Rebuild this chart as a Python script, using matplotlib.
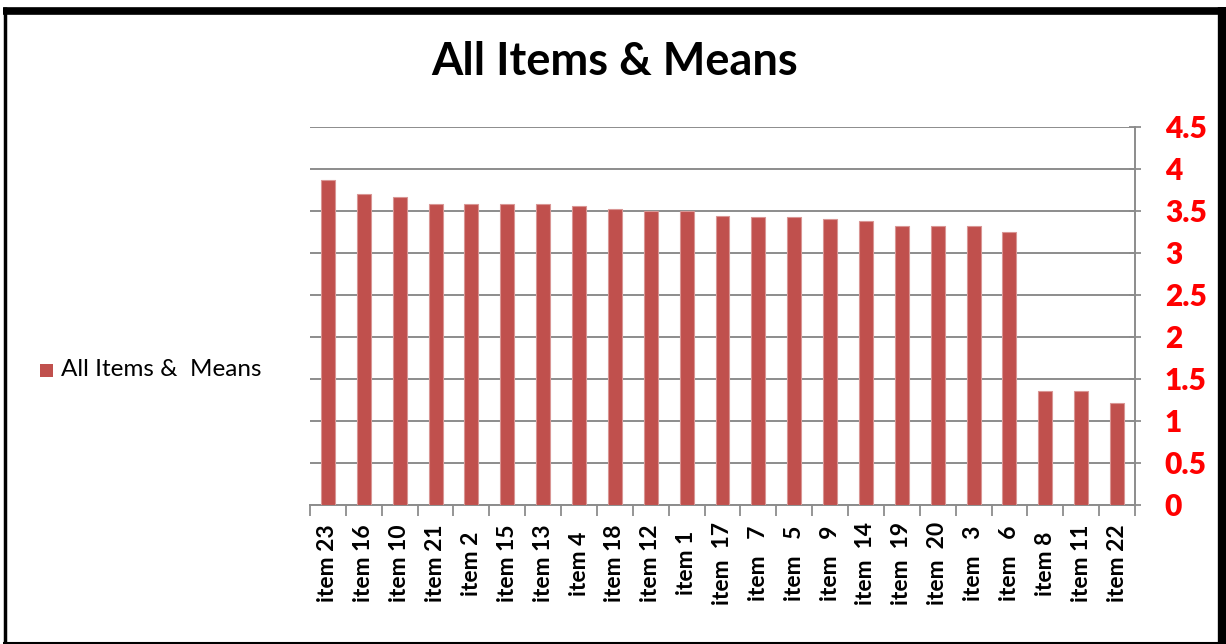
import matplotlib
matplotlib.use("Agg")
import matplotlib.pyplot as plt
from matplotlib.lines import Line2D
from matplotlib.patches import Rectangle
import numpy as np

categories = ["item 23", "item 16", "item 10", "item 21", "item 2", "item 15", "item 13",
              "item 4", "item 18", "item 12", "item 1", "item  17", "item   7", "item   5",
              "item   9", "item  14", "item  19", "item  20", "item   3", "item   6",
              "item 8", "item 11", "item 22"]
means = [3.87, 3.70, 3.67, 3.58, 3.58, 3.58, 3.58, 3.56, 3.52, 3.50, 3.50, 3.44, 3.43,
         3.43, 3.41, 3.38, 3.32, 3.32, 3.32, 3.25, 1.36, 1.36, 1.21]
yticks = [0, 0.5, 1, 1.5, 2, 2.5, 3, 3.5, 4, 4.5]
ytick_labels = ["0", "0.5", "1", "1.5", "2", "2.5", "3", "3.5", "4", "4.5"]
title = "All Items & Means"
series_name = "All Items &  Means"

plt.rcParams['font.family'] = ['Lato', 'DejaVu Sans']
W, H = 1226, 644
fig = plt.figure(figsize=(W / 100, H / 100), dpi=100)
ax = fig.add_axes([310 / W, 1 - 505 / H, (1135 - 310) / W, (505 - 127) / H])

bar_color = "#C0504D"
grid_color = "#8C8C8C"
x = np.arange(len(categories))
ax.bar(x, means, width=0.39, color=bar_color, edgecolor="#D99694", linewidth=0.8, zorder=3)
ax.set_xlim(-0.5, len(categories) - 0.5)
ax.set_ylim(0, 4.5)

ax.yaxis.tick_right()
ax.set_yticks(yticks)
ax.set_yticklabels(ytick_labels, color="#FF0000", fontweight="heavy", fontsize=21.5)
ax.tick_params(axis="y", direction="inout", length=9, width=1.3, color=grid_color, pad=17)
ax.grid(axis="y", color=grid_color, linewidth=1.4, zorder=0)

ax.set_xticks(x)
ax.set_xticklabels(categories, rotation=90, fontweight="bold", fontsize=16.5, va="center", ha="center")
ax.tick_params(axis="x", length=0, pad=42)
ax.set_xticks(np.arange(-0.5, len(categories), 1), minor=True)
ax.tick_params(axis="x", which="minor", direction="out", length=8, width=1.3, color=grid_color)

for s in ["top", "left"]:
    ax.spines[s].set_visible(False)
ax.spines["right"].set_color(grid_color)
ax.spines["right"].set_linewidth(1.4)
ax.spines["bottom"].set_color(grid_color)
ax.spines["bottom"].set_linewidth(1.4)

fig.text(615 / W, 1 - 62 / H, title, ha="center", va="center", fontsize=32.5, fontweight="bold")

# legend
fig.patches.append(Rectangle((40 / W, 1 - 377 / H), 13 / W, 13 / H, transform=fig.transFigure,
                             facecolor=bar_color, edgecolor="none"))
fig.text(61 / W, 1 - 370 / H, series_name, ha="left", va="center", fontsize=17.5)

# outer frame
def hline(y, x0, x1, lw):
    fig.add_artist(Line2D([x0 / W, x1 / W], [1 - y / H, 1 - y / H], color="black", lw=lw,
                          transform=fig.transFigure, solid_capstyle="butt"))
def vline(xp, y0, y1, lw):
    fig.add_artist(Line2D([xp / W, xp / W], [1 - y0 / H, 1 - y1 / H], color="black", lw=lw,
                          transform=fig.transFigure, solid_capstyle="butt"))
hline(10.5, 3, 1226, 5.5)
vline(4.5, 7, 644, 2.5)
vline(1222, 7, 644, 6)
hline(643, 3, 1226, 1.5)

fig.savefig("out.png", dpi=100)
